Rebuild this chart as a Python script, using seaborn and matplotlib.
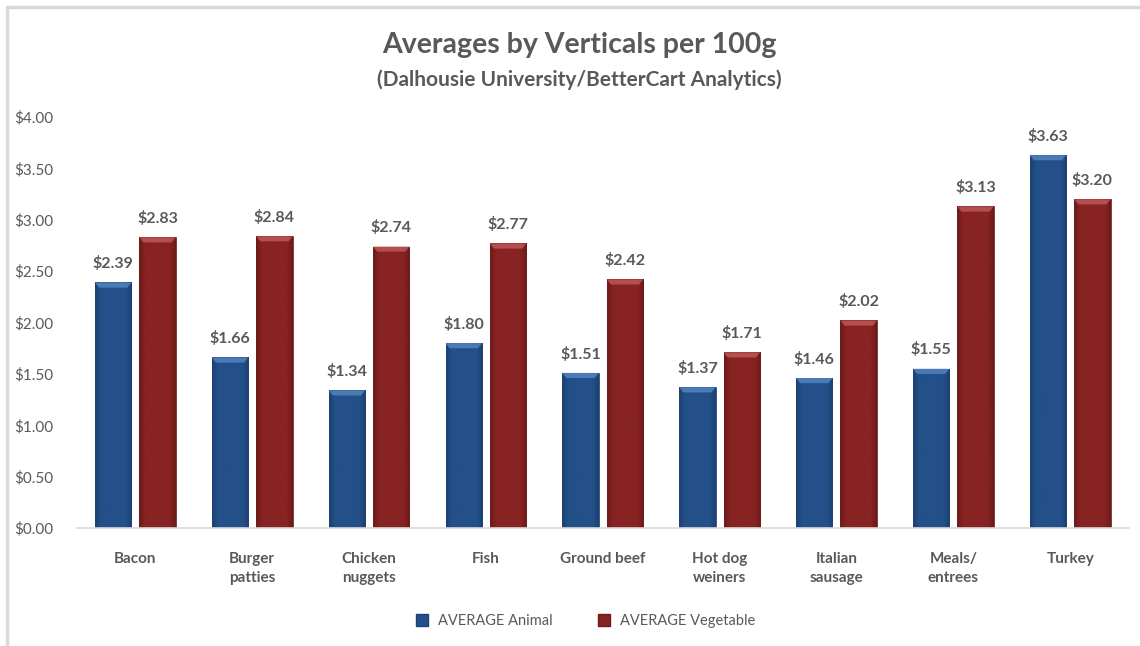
import numpy as np
import pandas as pd
import matplotlib.pyplot as plt
import seaborn as sns
from matplotlib.lines import Line2D

# Data
categories = ["Bacon", "Burger\npatties", "Chicken\nnuggets", "Fish", "Ground beef",
              "Hot dog\nweiners", "Italian\nsausage", "Meals/\nentrees", "Turkey"]
animal = [2.39, 1.66, 1.34, 1.80, 1.51, 1.37, 1.46, 1.55, 3.63]
vegetable = [2.83, 2.84, 2.74, 2.77, 2.42, 1.71, 2.02, 3.13, 3.20]
series_names = ["AVERAGE Animal", "AVERAGE Vegetable"]
y_ticks = [0, 0.5, 1.0, 1.5, 2.0, 2.5, 3.0, 3.5, 4.0]

df = pd.DataFrame({
    "Category": categories * 2,
    "Price": animal + vegetable,
    "Series": [series_names[0]] * len(categories) + [series_names[1]] * len(categories),
})

sns.set_style("white")
plt.rcParams["font.family"] = ["Lato", "DejaVu Sans"]
text_gray = "#595959"

# base / light / dark shades for the bevelled look
shades = {
    series_names[0]: ("#24508A", "#5283BE", "#1B4170"),
    series_names[1]: ("#872323", "#BE5656", "#6C1A1A"),
}

fig = plt.figure(figsize=(11.4, 6.46), dpi=100)
ax = fig.add_axes([0.0675, 0.1827, 0.9225, 0.636])

sns.barplot(data=df, x="Category", y="Price", hue="Series",
            palette={k: v[0] for k, v in shades.items()},
            width=0.76, gap=0.18, legend=False, ax=ax, saturation=1)

ax.set_ylim(0, 4)
ax.set_xlim(-0.5, len(categories) - 0.5)

# soft horizontal gradient inside each bar plus a thin lighter top bevel
grad = np.concatenate([np.linspace(0, 1, 50), np.linspace(1, 0, 50)])
for container, name in zip(ax.containers, series_names):
    base, light, dark = shades[name]
    cmap = sns.blend_palette([dark, base, base, base], as_cmap=True)
    for bar in container:
        x0, w, h = bar.get_x(), bar.get_width(), bar.get_height()
        bar.set_edgecolor(dark)
        bar.set_linewidth(0.5)
        im = ax.imshow(grad[np.newaxis, :], cmap=cmap, aspect="auto",
                       extent=(x0, x0 + w, 0, h), zorder=bar.get_zorder() + 0.1)
        im.set_clip_path(bar)
        bev = 0.05
        ax.fill([x0, x0 + w, x0 + w - 0.035, x0 + 0.035], [h, h, h - bev, h - bev],
                color=light, alpha=0.85, zorder=bar.get_zorder() + 0.2, lw=0)
        ax.text(x0 + w / 2, h + 0.11, f"${h:.2f}", ha="center", va="bottom",
                fontsize=11.5, fontweight="bold", color=text_gray)

ax.set_yticks(y_ticks)
ax.set_yticklabels([f"${v:.2f}" for v in y_ticks])
ax.tick_params(axis="y", length=0, pad=17, labelsize=11, labelcolor=text_gray)
ax.tick_params(axis="x", length=0, pad=17, labelsize=11, labelcolor=text_gray)
for lbl in ax.get_xticklabels():
    lbl.set_fontweight("bold")
    lbl.set_linespacing(1.5)
ax.set_xlabel("")
ax.set_ylabel("")
sns.despine(ax=ax, left=True)
ax.spines["bottom"].set_color("#D9D9D9")
ax.spines["bottom"].set_linewidth(1.2)

fig.text(0.508, 0.93, "Averages by Verticals per 100g", ha="center", va="center",
         fontsize=20.5, fontweight="bold", color=text_gray)
fig.text(0.508, 0.877, "(Dalhousie University/BetterCart Analytics)", ha="center",
         va="center", fontsize=15, fontweight="bold", color=text_gray)

handles = [Line2D([], [], marker="s", linestyle="", markersize=8,
                  markerfacecolor=shades[n][0], markeredgecolor=shades[n][2])
           for n in series_names]
fig.legend(handles, series_names, loc="center", bbox_to_anchor=(0.51, 0.038),
           ncol=2, frameon=False, fontsize=10.5, labelcolor=text_gray,
           handletextpad=0.1, columnspacing=2.5)

# chart frame (top and left edges visible)
fig.add_artist(Line2D([7 / 1140, 1], [1 - 7 / 646, 1 - 7 / 646],
                      transform=fig.transFigure, color="#D9D9D9", lw=2.5))
fig.add_artist(Line2D([7 / 1140, 7 / 1140], [0, 1 - 7 / 646],
                      transform=fig.transFigure, color="#D9D9D9", lw=2.5))

fig.savefig("out.png", dpi=100)
